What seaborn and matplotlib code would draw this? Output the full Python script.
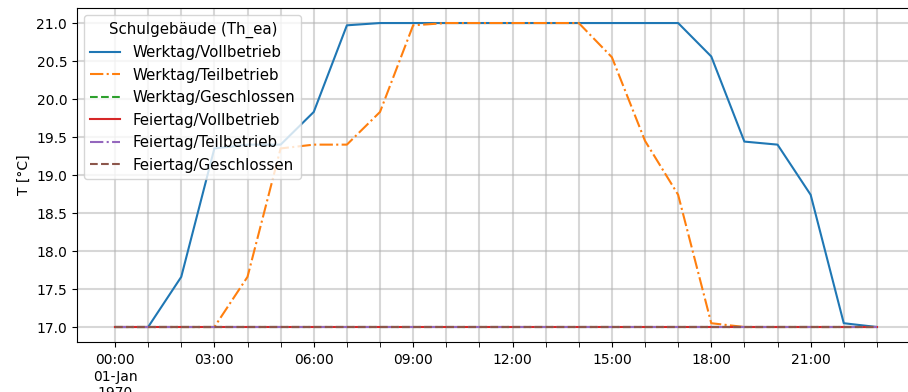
import matplotlib
matplotlib.use("Agg")
import matplotlib.pyplot as plt
from matplotlib.ticker import FixedLocator, FuncFormatter, MultipleLocator
import seaborn as sns

# Hourly temperature setpoints for a school building (Th_ea)
hours = list(range(24))
werktag_vollbetrieb = [17.0, 17.0, 17.66, 19.35, 19.40, 19.40, 19.83, 20.97,
                       21.0, 21.0, 21.0, 21.0, 21.0, 21.0, 21.0, 21.0,
                       21.0, 21.0, 20.56, 19.44, 19.40, 18.74, 17.05, 17.0]
werktag_teilbetrieb = [17.0, 17.0, 17.0, 17.0, 17.66, 19.35, 19.40, 19.40,
                       19.83, 20.97, 21.0, 21.0, 21.0, 21.0, 21.0, 20.55,
                       19.45, 18.74, 17.05, 17.0, 17.0, 17.0, 17.0, 17.0]
werktag_geschlossen = [17.0] * 24
feiertag_vollbetrieb = [17.0] * 24
feiertag_teilbetrieb = [17.0] * 24
feiertag_geschlossen = [17.0] * 24

series_names = ["Werktag/Vollbetrieb", "Werktag/Teilbetrieb", "Werktag/Geschlossen",
                "Feiertag/Vollbetrieb", "Feiertag/Teilbetrieb", "Feiertag/Geschlossen"]
series_values = [werktag_vollbetrieb, werktag_teilbetrieb, werktag_geschlossen,
                 feiertag_vollbetrieb, feiertag_teilbetrieb, feiertag_geschlossen]
line_styles = ["-", "-.", "--", "-", "-.", "--"]
colors = sns.color_palette("tab10", 6)

legend_title = "Schulgebäude (Th_ea)"
y_label = "T [°C]"
major_hours = [0, 3, 6, 9, 12, 15, 18, 21]

fig = plt.figure(figsize=(9.08, 3.92), dpi=100)
ax = fig.add_axes([0.0847, 0.127, 0.923, 0.853])

for name, vals, ls, col in zip(series_names, series_values, line_styles, colors):
    sns.lineplot(x=hours, y=vals, ax=ax, label=name, color=col, linestyle=ls,
                 linewidth=1.5)

ax.set_xlim(-1.15, 24.15)
ax.set_ylim(16.8, 21.2)
ax.yaxis.set_major_locator(MultipleLocator(0.5))
ax.yaxis.set_major_formatter(FuncFormatter(lambda v, p: f"{v:.1f}"))

ax.xaxis.set_major_locator(FixedLocator(major_hours))
ax.xaxis.set_minor_locator(FixedLocator(hours))


def hour_label(v, pos):
    h = int(round(v))
    if h == 0:
        return "00:00\n01-Jan\n1970"
    return f"{h:02d}:00"


ax.xaxis.set_major_formatter(FuncFormatter(hour_label))
ax.tick_params(axis="x", which="minor", length=3.5)
ax.tick_params(axis="x", which="major", pad=4.5)

ax.grid(which="both", color="#b0b0b0", alpha=0.5, linewidth=1.5)
ax.set_xlabel("")
ax.set_ylabel(y_label)

ax.legend(title=legend_title, loc="upper left", fontsize=10.8,
          title_fontsize=10.8)

fig.savefig("out.png", dpi=100)
